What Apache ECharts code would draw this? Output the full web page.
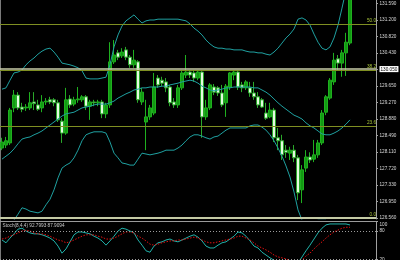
<!DOCTYPE html>
<html><head><meta charset="utf-8">
<script src="https://cdn.jsdelivr.net/npm/echarts@6/dist/echarts.min.js"></script>
<style>html,body{margin:0;padding:0;background:#000}#c{width:400px;height:260px}</style>
</head><body><div id="c"></div>
<script>
// ---- data ----
const opens = [
128.20,128.27,128.32,129.14,129.44,129.16,129.14,129.14,129.28,129.21,
129.14,129.28,129.33,129.33,129.26,128.83,128.55,129.35,129.23,129.33,
129.33,129.40,129.18,129.28,129.26,129.28,129.00,129.21,130.22,130.43,
130.36,130.50,130.33,130.15,130.22,129.28,128.81,128.93,129.02,129.84,
129.79,129.75,129.63,129.28,129.21,129.61,129.91,129.98,129.96,129.84,
129.98,128.93,129.14,129.63,129.61,129.49,129.26,129.63,129.91,129.98,
129.68,129.61,129.61,129.49,129.40,129.33,129.02,128.93,129.09,128.44,
128.37,128.15,128.08,128.15,127.97,127.22,127.73,127.99,127.94,128.04,
128.32,129.04,129.37,129.75,130.29,130.19,130.43,130.66];
const closes = [
128.34,128.37,129.09,129.44,129.14,129.11,129.16,129.26,129.24,129.11,
129.28,129.30,129.28,129.26,128.86,128.55,129.33,129.21,129.33,129.35,
129.40,129.18,129.28,129.26,129.28,129.00,129.21,130.22,130.38,130.33,
130.45,130.33,130.15,130.26,129.33,129.51,128.93,129.14,129.63,129.68,
129.72,129.61,129.26,129.21,129.61,129.96,129.98,129.91,129.84,129.98,
128.93,129.14,129.68,129.51,129.49,129.21,129.65,129.96,129.98,129.63,
129.61,129.75,129.49,129.40,129.21,129.16,128.90,129.09,128.44,128.37,
128.04,128.10,128.15,127.97,127.15,127.69,127.99,127.92,128.04,128.32,
129.02,129.40,129.79,130.26,130.19,130.43,130.68,131.79];
const lows = [
128.15,128.20,128.27,129.04,129.09,129.04,129.07,129.09,129.09,129.07,
129.04,129.21,129.23,129.18,128.81,128.32,128.51,129.14,129.18,129.26,
129.28,129.09,128.86,129.18,129.18,128.90,128.90,129.14,130.17,130.26,
130.31,130.26,130.08,130.08,129.26,129.21,128.15,128.86,128.97,129.61,
129.65,129.51,129.18,129.14,129.14,129.56,129.84,129.84,129.75,129.79,
128.44,128.86,129.09,129.44,129.42,129.16,128.93,129.56,129.79,129.56,
129.51,129.56,129.40,129.33,129.14,129.14,128.86,128.90,128.34,128.15,
127.92,127.97,127.92,127.87,126.98,126.91,127.64,127.85,127.87,127.97,
128.27,128.97,129.33,129.68,130.03,129.87,129.89,130.61];
const highs = [
128.44,128.46,129.14,129.56,129.51,129.26,129.23,129.51,129.51,129.33,
129.44,129.37,129.40,129.37,129.33,128.90,129.61,129.44,129.40,129.63,
129.44,129.44,129.33,129.33,129.33,129.33,129.26,130.68,130.73,130.50,
130.54,130.57,130.38,130.50,130.26,129.61,129.33,129.21,129.96,129.91,
129.87,129.84,129.68,129.37,129.68,130.03,130.38,130.03,130.03,130.03,
130.03,129.33,129.72,129.70,129.65,129.68,129.70,129.98,130.03,130.03,
129.75,129.79,129.75,129.75,129.51,129.37,129.26,129.26,129.14,128.67,
128.51,128.27,128.23,128.27,128.04,127.80,128.15,128.10,128.39,128.39,
129.09,129.44,129.84,130.43,130.38,130.50,130.90,131.90];
const bbUpper = [
129.58,129.61,129.79,129.96,129.98,130.03,130.15,130.24,130.31,130.40,
130.47,130.52,130.54,130.45,130.33,130.19,130.17,130.15,130.12,130.08,
130.01,129.84,129.82,129.82,129.82,129.84,129.86,130.15,130.57,130.85,
131.06,131.18,131.25,131.32,131.22,131.13,131.18,131.20,131.20,131.22,
131.22,131.22,131.22,131.22,131.22,131.20,131.18,131.11,131.01,130.94,
130.85,130.73,130.64,130.57,130.54,130.54,130.52,130.52,130.50,130.50,
130.50,130.47,130.45,130.45,130.43,130.43,130.40,130.38,130.45,130.54,
130.66,130.78,130.87,130.99,131.22,131.25,131.20,131.08,130.87,130.68,
130.54,130.50,130.57,130.78,131.08,131.48,131.90,132.26];
const bbMiddle = [
127.94,128.01,128.08,128.18,128.30,128.41,128.44,128.46,128.51,128.55,
128.60,128.67,128.74,128.81,128.88,128.95,129.00,129.02,129.04,129.09,
129.14,129.16,129.18,129.21,129.23,129.23,129.23,129.26,129.30,129.37,
129.42,129.47,129.51,129.56,129.58,129.61,129.61,129.63,129.63,129.63,
129.65,129.65,129.68,129.70,129.72,129.75,129.77,129.79,129.77,129.72,
129.65,129.61,129.56,129.54,129.56,129.58,129.61,129.61,129.63,129.63,
129.63,129.63,129.63,129.61,129.61,129.56,129.51,129.44,129.35,129.26,
129.18,129.11,129.04,128.97,128.93,128.88,128.79,128.72,128.67,128.60,
128.53,128.51,128.51,128.55,128.60,128.67,128.76,128.86];
const bbLower = [
126.30,126.42,126.47,126.51,126.65,126.80,126.77,126.72,126.70,126.68,
126.72,126.87,127.00,127.22,127.50,127.73,127.80,127.85,127.97,128.15,
128.37,128.51,128.55,128.58,128.58,128.58,128.55,128.34,128.08,127.97,
127.85,127.83,127.80,127.80,127.94,128.08,128.06,128.04,128.06,128.08,
128.11,128.15,128.15,128.15,128.20,128.27,128.37,128.46,128.51,128.51,
128.48,128.44,128.41,128.46,128.48,128.55,128.62,128.67,128.67,128.67,
128.67,128.67,128.72,128.74,128.74,128.69,128.62,128.51,128.37,128.20,
128.01,127.78,127.52,127.17,126.75,126.51,126.37,126.35,126.47,126.51,
126.51,126.51,126.44,126.33,126.12,125.86,125.63,125.46];
const stochMain = [
61,55,65,74,84,86,80,76,74,74,
72,69,65,59,48,33,42,57,72,78,
78,76,74,69,65,59,50,59,69,80,
86,84,80,76,61,50,38,35,48,55,
57,61,63,59,57,61,65,69,72,67,
59,48,44,44,50,55,57,63,69,78,
76,69,59,48,44,35,29,23,18,14,
12,12,12,12,12,25,38,50,63,76,
86,93,95,95,95,95,95,92.8];
const stochSignal = [
63,65,69,72,76,80,82,80,76,74,
74,72,69,65,61,59,55,57,61,65,
69,72,72,72,69,67,63,63,65,69,
74,78,78,76,69,65,59,52,50,52,
55,57,59,59,61,61,63,65,67,65,
61,57,55,55,57,59,61,63,65,69,
69,65,61,55,48,44,40,35,29,25,
23,21,16,14,14,18,27,33,42,50,
57,65,72,78,82,86,88,87.9];
const priceTicks = [131.59,131.20,130.82,130.43,130.05,129.65,129.27,128.88,128.49,128.11,127.72,127.33,126.95,126.56];
const fibRatios = [0.0, 23.6, 38.2, 50.0];
const fibLow = 126.56;
const fibRange = 9.08;
const priceLine = 130.05;
const stochLevels = [80, 20];
const stochLabels = [100, 80, 20];
const stochTitle = 'Stoch(8,4,4) 92.7993 87.9094';
const shiftBars = 6;

// ---- chart ----
const FS = 4.7;
const cats = Array.from({length: opens.length + shiftBars}, (_, i) => String(i));
const candleData = opens.map((o, i) => [o, closes[i], lows[i], highs[i]]);

const fibStyle = {
  '0.0':  {color: '#c4caa4', width: 2},
  '23.6': {color: '#7f8f22', width: 1},
  '38.2': {color: '#7f8f22', width: 1},
  '50.0': {color: '#7f8f22', width: 1}
};
const fibMarks = fibRatios.map(r => {
  const t = r.toFixed(1);
  return {
    yAxis: fibLow + fibRange * r / 100,
    lineStyle: {color: fibStyle[t].color, width: fibStyle[t].width, type: 'solid'},
    label: {show: true, formatter: t}
  };
});
fibMarks.push({yAxis: priceLine, lineStyle: {color: '#c8cca8', width: 1.5, type: 'solid'}, label: {show: false}});

const axisGray = '#a0a0a0';
const labelColor = '#d8d8d8';

const chart = echarts.init(document.getElementById('c'), null, {renderer: 'canvas'});
chart.setOption({
  backgroundColor: '#000000',
  animation: false,
  textStyle: {fontFamily: 'Liberation Sans'},
  title: {
    text: stochTitle, left: 2.5, top: 223, padding: 0,
    textStyle: {color: '#c8c8c8', fontSize: FS, fontWeight: 'normal', fontFamily: 'Liberation Sans'}
  },
  grid: [
    {left: 0, top: 0, width: 376, height: 219, outerBoundsMode: 'none', containLabel: false},
    {left: 0, top: 221.6, width: 376, height: 47.1, outerBoundsMode: 'none', containLabel: false}
  ],
  graphic: [{
    type: 'line', shape: {x1: 0.5, y1: 0, x2: 0.5, y2: 260},
    style: {stroke: '#7a7a7a', lineWidth: 1}, silent: true
  }],
  xAxis: [
    {type: 'category', gridIndex: 0, data: cats, boundaryGap: true, show: false},
    {type: 'category', gridIndex: 1, data: cats, boundaryGap: true, position: 'top',
     axisLine: {show: true, onZero: false, lineStyle: {color: '#9a9a9a'}},
     axisTick: {show: false}, axisLabel: {show: false}, splitLine: {show: false}}
  ],
  yAxis: [
    {type: 'value', gridIndex: 0, position: 'right', min: 126.537, max: 131.669,
     axisLine: {show: true, lineStyle: {color: axisGray}},
     axisTick: {show: true, length: 2, customValues: priceTicks, lineStyle: {color: axisGray}},
     axisLabel: {
       customValues: priceTicks, color: labelColor, fontSize: FS, margin: 3.5,
       fontFamily: 'Liberation Sans',
       formatter: v => Math.abs(v - priceLine) < 1e-6 ? '{box|' + v.toFixed(3) + '}' : v.toFixed(3),
       rich: {box: {backgroundColor: '#ffffff', color: '#000000', fontSize: FS, padding: [0.8, 1, 0.3, 1], fontFamily: 'Liberation Sans'}}
     },
     splitLine: {show: false}},
    {type: 'value', gridIndex: 1, position: 'right', min: 0, max: 100,
     axisLine: {show: true, lineStyle: {color: axisGray}},
     axisTick: {show: true, length: 2, customValues: stochLabels, lineStyle: {color: axisGray}},
     axisLabel: {
       customValues: stochLabels, color: labelColor, fontSize: FS, margin: 3.5,
       fontFamily: 'Liberation Sans',
       formatter: v => v === 100 ? '{top|100}' : String(v),
       rich: {top: {padding: [5.5, 0, 0, 0], fontSize: FS, color: labelColor, fontFamily: 'Liberation Sans'}}
     },
     splitLine: {show: false}}
  ],
  series: [
    {
      type: 'candlestick', xAxisIndex: 0, yAxisIndex: 0, data: candleData, barWidth: 3, clip: true,
      itemStyle: {color: '#129a12', color0: '#e4fbe0', borderColor: '#1fb01f', borderColor0: '#2aa82a', borderWidth: 1},
      markLine: {
        silent: true, symbol: ['none', 'none'], animation: false,
        label: {position: 'insideEndTop', color: '#a6c23a', fontSize: FS, distance: [0, 1], fontFamily: 'Liberation Sans'},
        data: fibMarks
      }
    },
    {type: 'line', xAxisIndex: 0, yAxisIndex: 0, data: bbUpper, showSymbol: false, clip: true,
     lineStyle: {color: '#1fa0a0', width: 1}, silent: true},
    {type: 'line', xAxisIndex: 0, yAxisIndex: 0, data: bbMiddle, showSymbol: false, clip: true,
     lineStyle: {color: '#1fa0a0', width: 1}, silent: true},
    {type: 'line', xAxisIndex: 0, yAxisIndex: 0, data: bbLower, showSymbol: false, clip: true,
     lineStyle: {color: '#1fa0a0', width: 1}, silent: true},
    {type: 'line', xAxisIndex: 1, yAxisIndex: 1, data: stochMain, showSymbol: false, clip: true,
     lineStyle: {color: '#20b2aa', width: 1}, silent: true,
     markLine: {silent: true, symbol: ['none', 'none'], label: {show: false}, animation: false,
       lineStyle: {color: '#9a9a9a', width: 1, type: [1, 2]},
       data: stochLevels.map(v => ({yAxis: v}))}},
    {type: 'line', xAxisIndex: 1, yAxisIndex: 1, data: stochSignal, showSymbol: false, clip: true,
     lineStyle: {color: '#e01010', width: 1, type: [1.5, 1.5]}, silent: true}
  ]
});
</script>
</body></html>
